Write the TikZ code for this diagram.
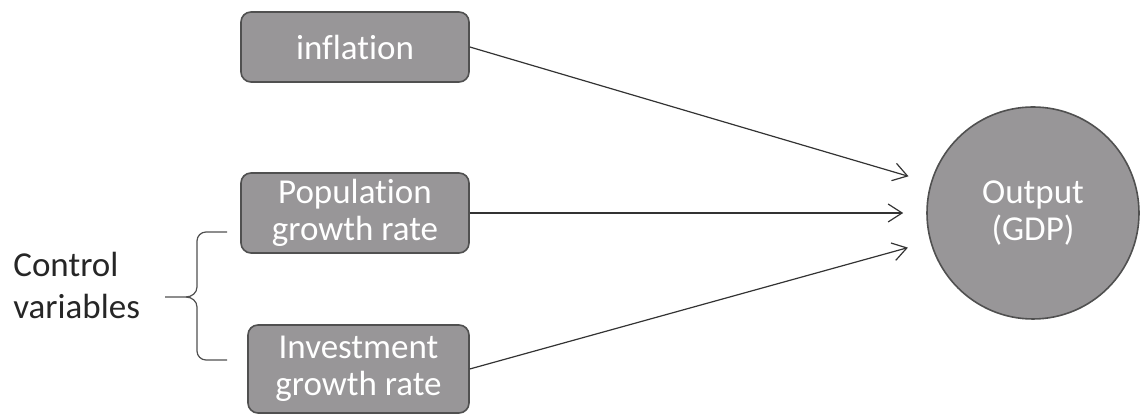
\documentclass[tikz,border=0pt]{standalone}
\usepackage{fontspec}
\setmainfont{Carlito}[Ligatures=NoCommon]
\usepackage{tikz}
\usetikzlibrary{arrows.meta,positioning}
\definecolor{boxgray}{RGB}{152,150,152}
\definecolor{edgegray}{RGB}{80,80,80}
\tikzset{
    varbox/.style={draw=edgegray, line width=0.8pt, fill=boxgray, rounded corners=5pt,
        text=white, align=center, inner sep=0pt, minimum width=114pt,
        font=\fontsize{17.5}{18.5}\selectfont},
    gdpnode/.style={circle, draw=edgegray, line width=0.8pt, fill=boxgray, text=white,
        align=center, inner sep=0pt, minimum size=106pt,
        font=\fontsize{17.5}{18.5}\selectfont},
    link/.style={-{Straight Barb[length=7pt,width=9pt]}, line width=0.6pt, draw=black!80,
        shorten >=11.5pt}
}
\begin{document}
\begin{tikzpicture}[x=0.5pt, y=-0.5pt]
        \useasboundingbox (0,0) rectangle (1142,415);
        % Define the variable boxes
        \node[varbox, minimum height=35pt] (infl) at (355,47) {inflation};
        \node[varbox, minimum height=40pt] (pop) at (355,213) {Population\\growth rate};
        \node[varbox, minimum height=44pt, minimum width=110.5pt] (inv) at (358.5,369) {Investment\\growth rate};
        
        % Define the output
        \node[gdpnode] (gdp) at (1033,213) {Output\\(GDP)};
        
        % Add the arrows into the output
        \draw[link] (infl.east) -- (gdp);
        \draw[link] (pop.east) -- (gdp);
        \draw[link] (inv.east) -- (gdp);
        
        % Control variables with brace
        \node[anchor=west, align=left, inner sep=0pt, text=black!85,
            font=\fontsize{17.5}{21}\selectfont] (ctrl) at (13,285) {Control\\variables};
        \draw[edgegray, line width=0.6pt] (227,232) -- (206,232) to[out=180,in=90] (197,241)
            -- (197,287) to[out=-90,in=0] (186,297) -- (165,297);
        \draw[edgegray, line width=0.6pt] (227,360) -- (206,360) to[out=180,in=-90] (197,351)
            -- (197,307) to[out=90,in=0] (186,297);
    \end{tikzpicture}
\end{document}
